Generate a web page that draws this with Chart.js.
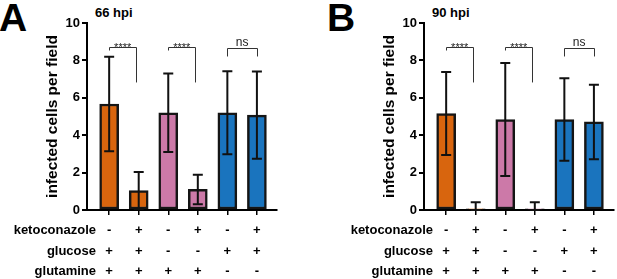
<!DOCTYPE html>
<html lang="en">
<head>
  <meta charset="UTF-8">
  <title>Infected cells per field – 66 hpi / 90 hpi</title>
  <script src="https://cdn.jsdelivr.net/npm/chart.js@4"></script>
  <style>
    html, body { margin:0; padding:0; background:#fff; }
    body { width:617px; height:279px; position:relative; overflow:hidden; font-family:'Liberation Sans', Arial, sans-serif; }
    canvas { position:absolute; top:0; }
    #cA { left:0; } #cB { left:337px; }
    .letter { position:absolute; font-size:39px; font-weight:bold; line-height:1; color:#000; }
    .hpi { position:absolute; font-size:13px; font-weight:bold; line-height:1; color:#000; top:6px; }
  </style>
</head>
<body>
<div class="letter" style="left:-1px;top:-2px">A</div>
<div class="letter" style="left:327px;top:-2px">B</div>
<div class="hpi" style="left:95px">66 hpi</div>
<div class="hpi" style="left:432px">90 hpi</div>
<canvas id="cA" width="280" height="279"></canvas>
<canvas id="cB" width="280" height="279"></canvas>

<script>
// data
const groups = [0, 1, 2, 3, 4, 5];
const ketoconazole = ['-', '+', '-', '+', '-', '+'];
const glucose      = ['+', '+', '-', '-', '+', '+'];
const glutamine    = ['+', '+', '+', '+', '-', '-'];
const yTicks = [0, 2, 4, 6, 8, 10];

const meanA = [5.67, 1.04, 5.2, 1.1, 5.2, 5.07];
const sdA   = [2.53, 0.99, 2.1, 0.79, 2.22, 2.33];
const meanB = [5.16, 0.06, 4.84, 0.06, 4.84, 4.71];
const sdB   = [2.22, 0.35, 3.02, 0.35, 2.2, 1.99];

// significance brackets: left group, right group, label, bar level, left drop, right drop
const compLeft  = [0, 2, 4];
const compRight = [1, 3, 5];
const compLabel = ['****', '****', 'ns'];
const compLevel = [8.71, 8.71, 8.68];
const compDropL = [8.53, 8.53, 8.21];
const compDropR = [6.82, 6.82, 8.21];

const barColors = ['#d8650e', '#d8650e', '#cc79a8', '#cc79a8', '#1a74be', '#1a74be'];
const FONT = "'Liberation Sans', Arial, sans-serif";

const errorBars = {
  id: 'errorBars',
  afterDatasetsDraw(chart, args, opts) {
    const {ctx, scales: {y}} = chart;
    const meta = chart.getDatasetMeta(0);
    ctx.save();
    ctx.strokeStyle = '#111';
    ctx.lineWidth = 2;
    meta.data.forEach((el, i) => {
      const m = opts.mean[i], s = opts.sd[i];
      const yt = y.getPixelForValue(m + s), yb = y.getPixelForValue(Math.max(0, m - s));
      ctx.beginPath();
      ctx.moveTo(el.x, yt); ctx.lineTo(el.x, yb);
      ctx.moveTo(el.x - 5, yt); ctx.lineTo(el.x + 5, yt);
      ctx.moveTo(el.x - 5, yb); ctx.lineTo(el.x + 5, yb);
      ctx.stroke();
    });
    ctx.restore();
  }
};

const extras = {
  id: 'extras',
  afterDraw(chart) {
    const {ctx, scales: {x, y}} = chart;
    ctx.save();
    // brackets
    ctx.strokeStyle = '#333';
    ctx.lineWidth = 1;
    ctx.fillStyle = '#222';
    compLeft.forEach((l, k) => {
      const x1 = x.getPixelForValue(l), x2 = x.getPixelForValue(compRight[k]) - (compLabel[k] === 'ns' ? 0 : 2.5);
      const yl = Math.round(y.getPixelForValue(compLevel[k])) + 0.5;
      ctx.beginPath();
      ctx.moveTo(Math.round(x1) + 0.5, y.getPixelForValue(compDropL[k]));
      ctx.lineTo(Math.round(x1) + 0.5, yl);
      ctx.lineTo(Math.round(x2) + 0.5, yl);
      ctx.lineTo(Math.round(x2) + 0.5, y.getPixelForValue(compDropR[k]));
      ctx.stroke();
      ctx.textAlign = 'center';
      ctx.textBaseline = 'alphabetic';
      ctx.font = compLabel[k] === 'ns' ? '12px ' + FONT : '11px ' + FONT;
      ctx.fillText(compLabel[k], (x1 + x2) / 2, compLabel[k] === 'ns' ? yl - 2.5 : yl + 3);
    });
    // treatment table
    ctx.fillStyle = '#000';
    ctx.font = 'bold 13px ' + FONT;
    ctx.textBaseline = 'middle';
    const rows = [['ketoconazole', ketoconazole, 230], ['glucose', glucose, 251], ['glutamine', glutamine, 271]];
    rows.forEach(([name, signs, ry]) => {
      ctx.textAlign = 'right';
      ctx.fillText(name, 96, ry);
      ctx.textAlign = 'center';
      signs.forEach((s, i) => ctx.fillText(s, x.getPixelForValue(groups[i]), ry));
    });
    ctx.restore();
  }
};

function makePanel(id, mean, sd) {
  return new Chart(document.getElementById(id), {
    type: 'bar',
    data: {
      datasets: [{
        data: groups.map((g, i) => ({x: g, y: mean[i]})),
        backgroundColor: barColors,
        borderColor: '#151515',
        borderWidth: 2.5,
        borderSkipped: false,
        barThickness: 19
      }]
    },
    options: {
      responsive: false,
      animation: false,
      layout: { padding: { left: 40, top: 23, right: 3, bottom: 0 } },
      plugins: {
        legend: { display: false },
        tooltip: { enabled: false },
        errorBars: { mean: mean, sd: sd }
      },
      scales: {
        x: {
          type: 'linear',
          offset: false,
          min: -0.75, max: 5.68,
          afterBuildTicks: s => { s.ticks = groups.map(v => ({value: v})); },
          afterFit: s => { s.height = 69; },
          ticks: { display: false },
          grid: { offset: false, drawOnChartArea: false, drawTicks: true, tickLength: 5, color: '#000', lineWidth: 1.5 },
          border: { display: true, color: '#000', width: 2 }
        },
        y: {
          min: 0, max: 10,
          afterBuildTicks: s => { s.ticks = yTicks.map(v => ({value: v})); },
          afterFit: s => { s.width = 47; },
          ticks: { color: '#000', padding: 2, font: { family: FONT, size: 13, weight: 'bold' } },
          grid: { drawOnChartArea: false, drawTicks: true, tickLength: 5, color: '#000', lineWidth: 2 },
          border: { display: true, color: '#000', width: 2 },
          title: { display: true, text: 'infected cells per field', color: '#000', padding: { top: 3, bottom: 0 },
                   font: { family: FONT, size: 15.5, weight: 'bold' } }
        }
      }
    },
    plugins: [errorBars, extras]
  });
}

makePanel('cA', meanA, sdA);
makePanel('cB', meanB, sdB);
</script>
</body>
</html>
